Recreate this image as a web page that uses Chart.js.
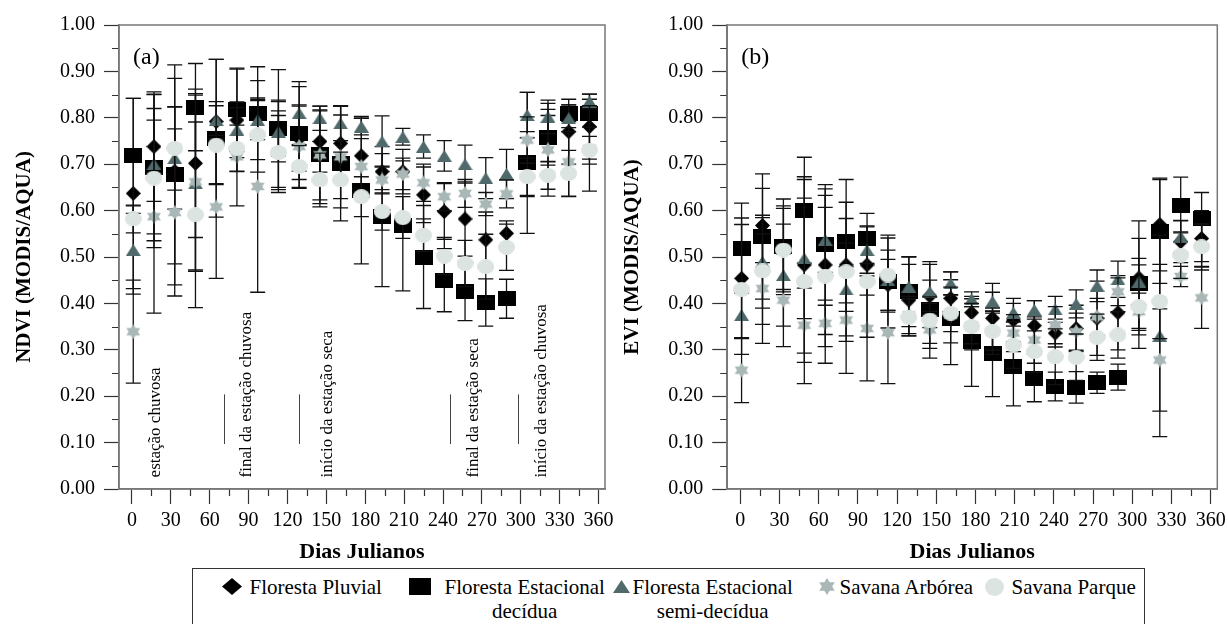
<!DOCTYPE html>
<html><head><meta charset="utf-8">
<script src="https://cdn.jsdelivr.net/npm/chart.js@4.4.0/dist/chart.umd.min.js"></script>
<style>
html,body{margin:0;padding:0;background:#fff;width:1228px;height:624px;overflow:hidden;}
#wrapA{position:absolute;left:0;top:0;width:614px;height:566px;}
#wrapB{position:absolute;left:614px;top:0;width:614px;height:566px;}
#legend{position:absolute;left:192px;top:568px;width:953px;height:80px;border:1.5px solid #333;box-sizing:border-box;
  font-family:'Liberation Serif','Times New Roman',serif;font-size:21px;color:#000;}
.txt{position:absolute;top:0;text-align:center;line-height:24px;white-space:nowrap;}
</style>
</head><body>
<div id="wrapA"><canvas id="cA" width="614" height="566"></canvas></div>
<div id="wrapB"><canvas id="cB" width="614" height="566"></canvas></div>
<div id="legend"></div>
<script>
// ---------------- DATA ----------------
const days = [1,17,33,49,65,81,97,113,129,145,161,177,193,209,225,241,257,273,289,305,321,337,353];
const xTickValues = [0,30,60,90,120,150,180,210,240,270,300,330,360];
const xMinorValues = [15,45,75,105,135,165,195,225,255,285,315,345];
const yTickValues = [0,0.1,0.2,0.3,0.4,0.5,0.6,0.7,0.8,0.9,1.0];
const yMinorValues = [0.05,0.15,0.25,0.35,0.45,0.55,0.65,0.75,0.85,0.95];

const seriesNames = ['Floresta Pluvial', ['Floresta Estacional','decídua'], ['Floresta Estacional','semi-decídua'], 'Savana Arbórea', 'Savana Parque'];

// NDVI (a)
const ndviPluvial   = [0.637,0.738,0.685,0.702,0.792,0.795,0.800,0.778,0.755,0.749,0.745,0.718,0.684,0.684,0.634,0.598,0.582,0.537,0.551,0.700,0.755,0.770,0.781];
const ndviPluvialSd = [0.205,0.118,0.200,0.160,0.134,0.110,0.040,0.060,0.070,0.066,0.080,0.081,0.039,0.048,0.060,0.060,0.080,0.060,0.027,0.070,0.050,0.070,0.070];
const ndviDecidua   = [0.718,0.693,0.677,0.823,0.756,0.817,0.810,0.777,0.767,0.720,0.702,0.644,0.587,0.567,0.500,0.450,0.425,0.402,0.410,0.703,0.758,0.810,0.810];
const ndviDeciduaSd = [0.124,0.158,0.237,0.094,0.170,0.090,0.100,0.127,0.100,0.105,0.124,0.159,0.151,0.140,0.111,0.068,0.062,0.051,0.042,0.152,0.060,0.018,0.030];
const ndviSemi      = [0.515,0.700,0.713,0.659,0.795,0.774,0.795,0.770,0.810,0.799,0.788,0.781,0.749,0.759,0.738,0.718,0.700,0.670,0.679,0.806,0.802,0.799,0.835];
const ndviSemiSd    = [0.095,0.150,0.110,0.190,0.040,0.060,0.042,0.065,0.068,0.026,0.037,0.018,0.055,0.018,0.025,0.033,0.041,0.044,0.053,0.049,0.036,0.029,0.016];
const ndviArborea   = [0.339,0.587,0.596,0.662,0.608,0.716,0.652,0.727,0.738,0.720,0.716,0.695,0.666,0.679,0.660,0.630,0.637,0.614,0.636,0.752,0.731,0.705,0.734];
const ndviArboreaSd = [0.111,0.208,0.180,0.190,0.154,0.106,0.228,0.088,0.090,0.097,0.090,0.060,0.030,0.034,0.040,0.030,0.030,0.025,0.030,0.050,0.100,0.074,0.092];
const ndviParque    = [0.582,0.670,0.734,0.591,0.741,0.734,0.763,0.725,0.695,0.666,0.666,0.630,0.598,0.585,0.547,0.502,0.486,0.479,0.521,0.673,0.676,0.680,0.730];
const ndviParqueSd  = [0.030,0.150,0.090,0.200,0.085,0.050,0.080,0.080,0.045,0.058,0.060,0.043,0.040,0.045,0.035,0.040,0.050,0.070,0.050,0.040,0.030,0.050,0.030];

// EVI (b)
const eviPluvial   = [0.454,0.568,0.520,0.483,0.483,0.483,0.483,0.440,0.407,0.416,0.411,0.380,0.368,0.364,0.352,0.336,0.346,0.368,0.380,0.455,0.570,0.533,0.540];
const eviPluvialSd = [0.130,0.080,0.090,0.190,0.150,0.100,0.065,0.055,0.077,0.068,0.040,0.030,0.075,0.047,0.054,0.030,0.050,0.080,0.080,0.123,0.100,0.045,0.060];
const eviDecidua   = [0.519,0.544,0.522,0.601,0.526,0.534,0.540,0.447,0.425,0.386,0.368,0.318,0.291,0.265,0.239,0.221,0.219,0.229,0.241,0.443,0.555,0.612,0.583];
const eviDeciduaSd = [0.097,0.135,0.103,0.114,0.130,0.133,0.054,0.100,0.075,0.104,0.100,0.097,0.092,0.086,0.051,0.031,0.034,0.023,0.028,0.097,0.112,0.060,0.056];
const eviSemi      = [0.375,0.490,0.461,0.497,0.537,0.430,0.515,0.450,0.436,0.425,0.443,0.409,0.404,0.380,0.386,0.387,0.399,0.438,0.452,0.447,0.330,0.544,0.530];
const eviSemiSd    = [0.050,0.100,0.110,0.130,0.070,0.100,0.050,0.065,0.065,0.025,0.025,0.016,0.020,0.020,0.020,0.028,0.030,0.034,0.039,0.050,0.217,0.035,0.040];
const eviArborea   = [0.256,0.432,0.407,0.353,0.357,0.364,0.346,0.337,0.375,0.343,0.375,0.353,0.339,0.336,0.321,0.353,0.339,0.371,0.425,0.382,0.278,0.458,0.412];
const eviArboreaSd = [0.070,0.118,0.100,0.080,0.050,0.115,0.113,0.110,0.040,0.040,0.060,0.040,0.040,0.040,0.050,0.040,0.040,0.040,0.030,0.040,0.110,0.022,0.066];
const eviParque    = [0.430,0.470,0.515,0.447,0.459,0.468,0.447,0.461,0.370,0.364,0.379,0.350,0.340,0.310,0.296,0.285,0.284,0.327,0.332,0.393,0.404,0.504,0.522];
const eviParqueSd  = [0.140,0.115,0.090,0.220,0.188,0.150,0.120,0.080,0.040,0.050,0.040,0.050,0.050,0.050,0.045,0.060,0.050,0.050,0.050,0.090,0.080,0.050,0.050];

// season annotations (panel a)
const seasonLabels = ['estação chuvosa','final da estação chuvosa','início da estação seca','final da estação seca','início da estação chuvosa'];
const seasonLabelDays = [22, 92, 154.4, 266.9, 319.6];
const seasonDividerDays = [70.9, 129.1, 245.7, 298];

// ---------------- STYLE ----------------
const SERIF = "'Liberation Serif','Times New Roman',serif";
const colors = ['#000000','#000000','#506a6b','#a9b8b7','#dce4e2'];

function makeCanvas(w,h){const c=document.createElement('canvas');c.width=w;c.height=h;return c;}
function shape(kind, w, h, color){
  const c = makeCanvas(w,h); const g = c.getContext('2d'); g.fillStyle = color;
  const cx=w/2, cy=h/2;
  g.beginPath();
  if(kind==='diamond'){ g.moveTo(cx,0); g.lineTo(w,cy); g.lineTo(cx,h); g.lineTo(0,cy); g.closePath(); g.fill(); }
  else if(kind==='square'){ g.rect(0,0,w,h); g.fill(); }
  else if(kind==='triangle'){ g.moveTo(cx,0); g.lineTo(w,h); g.lineTo(0,h); g.closePath(); g.fill(); }
  else if(kind==='circle'){ g.ellipse(cx,cy,w/2,h/2,0,0,Math.PI*2); g.fill(); }
  else if(kind==='star'){
    const rx=w/2, ry=h/2;
    g.moveTo(cx,cy-ry); g.lineTo(cx+rx*0.866,cy+ry*0.5); g.lineTo(cx-rx*0.866,cy+ry*0.5); g.closePath(); g.fill();
    g.beginPath(); g.moveTo(cx,cy+ry); g.lineTo(cx+rx*0.866,cy-ry*0.5); g.lineTo(cx-rx*0.866,cy-ry*0.5); g.closePath(); g.fill();
  }
  return c;
}
const kinds = ['diamond','square','triangle','star','circle'];
const markerSizes = [[15,15],[18,15],[15,12],[16,15],[17,15]];
const legendSizes = [[20,17],[22,17],[17,13],[18,17],[19,18]];
const markers = kinds.map((k,i)=>shape(k, markerSizes[i][0], markerSizes[i][1], colors[i]));

// ---------------- PLUGINS ----------------
const errorBars = {
  id:'errorBars',
  beforeDatasetDraw(chart,args){
    const ds = chart.data.datasets[args.index];
    if(!ds.errors) return;
    const ys = chart.scales.y, ctx = chart.ctx, a = chart.chartArea;
    ctx.save();
    ctx.beginPath(); ctx.rect(a.left,a.top,a.right-a.left,a.bottom-a.top); ctx.clip();
    ctx.strokeStyle = '#111'; ctx.lineWidth = 1.3;
    ctx.beginPath();
    ds.data.forEach((p,i)=>{
      const el = args.meta.data[i]; const x = el.x;
      const yt = ys.getPixelForValue(p.y + ds.errors[i]);
      const yb = ys.getPixelForValue(p.y - ds.errors[i]);
      ctx.moveTo(x,yt); ctx.lineTo(x,yb);
      ctx.moveTo(x-7.5,yt); ctx.lineTo(x+7.5,yt);
      ctx.moveTo(x-7.5,yb); ctx.lineTo(x+7.5,yb);
    });
    ctx.stroke();
    ctx.restore();
  }
};
const decor = {
  id:'decor',
  afterDraw(chart,args,opts){
    const {ctx, chartArea:a, scales:{x,y}} = chart;
    ctx.save();
    ctx.strokeStyle = '#333'; ctx.lineWidth = 1.2;
    ctx.beginPath();
    xMinorValues.forEach(v=>{const px = Math.round(x.getPixelForValue(v))+0.5; ctx.moveTo(px,a.bottom); ctx.lineTo(px,a.bottom+7);});
    yMinorValues.forEach(v=>{const py = Math.round(y.getPixelForValue(v))+0.5; ctx.moveTo(a.left,py); ctx.lineTo(a.left-7,py);});
    ctx.stroke();
    ctx.strokeStyle = '#777'; ctx.lineWidth = 1.5;
    ctx.strokeRect(a.left, a.top, a.right-a.left, a.bottom-a.top);
    ctx.fillStyle = '#000';
    ctx.font = '24px ' + SERIF; ctx.textBaseline = 'alphabetic'; ctx.textAlign='left';
    ctx.fillText(opts.label, a.left+14, a.top+39);
    if(opts.seasons){
      ctx.font = '17px ' + SERIF;
      seasonLabels.forEach((t,i)=>{
        const px = x.getPixelForValue(seasonLabelDays[i]);
        const py = y.getPixelForValue(0.025);
        ctx.save(); ctx.translate(px,py); ctx.rotate(-Math.PI/2);
        ctx.textAlign='left'; ctx.textBaseline='alphabetic'; ctx.fillText(t,0,0); ctx.restore();
      });
      ctx.strokeStyle = '#444'; ctx.lineWidth = 1;
      ctx.beginPath();
      seasonDividerDays.forEach(d=>{
        const px = Math.round(x.getPixelForValue(d))+0.5;
        ctx.moveTo(px, y.getPixelForValue(0.204)); ctx.lineTo(px, y.getPixelForValue(0.097));
      });
      ctx.stroke();
    }
    ctx.restore();
  }
};

// ---------------- CHARTS ----------------
function buildChart(id, values, errs, yTitle, label, seasons, yWidth, padRight, titlePad){
  const datasets = values.map((vals,k)=>({
    label: Array.isArray(seriesNames[k]) ? seriesNames[k].join(' ') : seriesNames[k],
    data: days.map((d,i)=>({x:d, y:vals[i]})),
    errors: errs[k],
    pointStyle: markers[k],
    pointRadius: 8, pointHoverRadius: 8,
    backgroundColor: colors[k], borderColor: colors[k],
    showLine:false, order: 5-k
  }));
  const tickFont = {family: SERIF, size: 20};
  return new Chart(document.getElementById(id), {
    type:'scatter',
    data:{datasets},
    options:{
      responsive:false, animation:false, events:[],
      layout:{padding:{left:0,right:padRight,top:25,bottom:0}},
      plugins:{legend:{display:false}, tooltip:{enabled:false}, decor:{label, seasons}},
      scales:{
        x:{type:'linear', min:-10, max:365,
          afterBuildTicks(s){ s.ticks = xTickValues.map(v=>({value:v})); },
          afterFit(s){ s.height = 77; s.paddingLeft = 0; s.paddingRight = 0; },
          ticks:{font:tickFont, color:'#000', padding:5, maxRotation:0, autoSkip:false, callback:v=>String(v)},
          grid:{display:true, drawOnChartArea:false, drawTicks:true, tickLength:15, tickColor:'#333', tickWidth:1.2},
          border:{display:true, color:'#777', width:1.5},
          title:{display:true, text:'Dias Julianos', font:{family:SERIF, size:22, weight:'bold'}, color:'#000', padding:{top:0,bottom:0}}
        },
        y:{type:'linear', min:0, max:1,
          afterBuildTicks(s){ s.ticks = yTickValues.map(v=>({value:v})); },
          afterFit(s){ s.width = yWidth; s.paddingTop = 0; s.paddingBottom = 0; },
          ticks:{font:tickFont, color:'#000', padding:9, autoSkip:false, callback:v=>Number(v).toFixed(2)},
          grid:{display:true, drawOnChartArea:false, drawTicks:true, tickLength:15, tickColor:'#333', tickWidth:1.2},
          border:{display:true, color:'#777', width:1.5},
          title:{display:true, text:yTitle, font:{family:SERIF, size:21, weight:'bold'}, color:'#000', padding:{top:titlePad,bottom:0}}
        }
      }
    },
    plugins:[errorBars, decor]
  });
}

buildChart('cA',
  [ndviPluvial, ndviDecidua, ndviSemi, ndviArborea, ndviParque],
  [ndviPluvialSd, ndviDeciduaSd, ndviSemiSd, ndviArboreaSd, ndviParqueSd],
  'NDVI (MODIS/AQUA)', '(a)', true, 119, 4.7, 12.4);
buildChart('cB',
  [eviPluvial, eviDecidua, eviSemi, eviArborea, eviParque],
  [eviPluvialSd, eviDeciduaSd, eviSemiSd, eviArboreaSd, eviParqueSd],
  'EVI (MODIS/AQUA)', '(b)', false, 113.2, 10.7, 6.1);

// ---------------- LEGEND ----------------
const legendIconLeft = [222, 409, 613, 818, 985];
const legendTextLeft = [250, 445, 633, 840, 1012];
const legend = document.getElementById('legend');
const boxLeft = 192 + 1.5, boxTop = 568 + 1.5;
seriesNames.forEach((name,k)=>{
  const [w,h] = legendSizes[k];
  const ic = shape(kinds[k], w, h, colors[k]);
  ic.style.position='absolute';
  ic.style.left = (legendIconLeft[k]-boxLeft)+'px';
  ic.style.top = (587 - h/2 - boxTop)+'px';
  legend.appendChild(ic);
  const t = document.createElement('div');
  t.className='txt';
  t.style.left = (legendTextLeft[k]-boxLeft)+'px';
  t.style.top = (575 - boxTop)+'px';
  const lines = Array.isArray(name) ? name : [name];
  lines.forEach((ln,i)=>{ if(i) t.appendChild(document.createElement('br')); t.appendChild(document.createTextNode(ln)); });
  legend.appendChild(t);
});
</script>
</body></html>
